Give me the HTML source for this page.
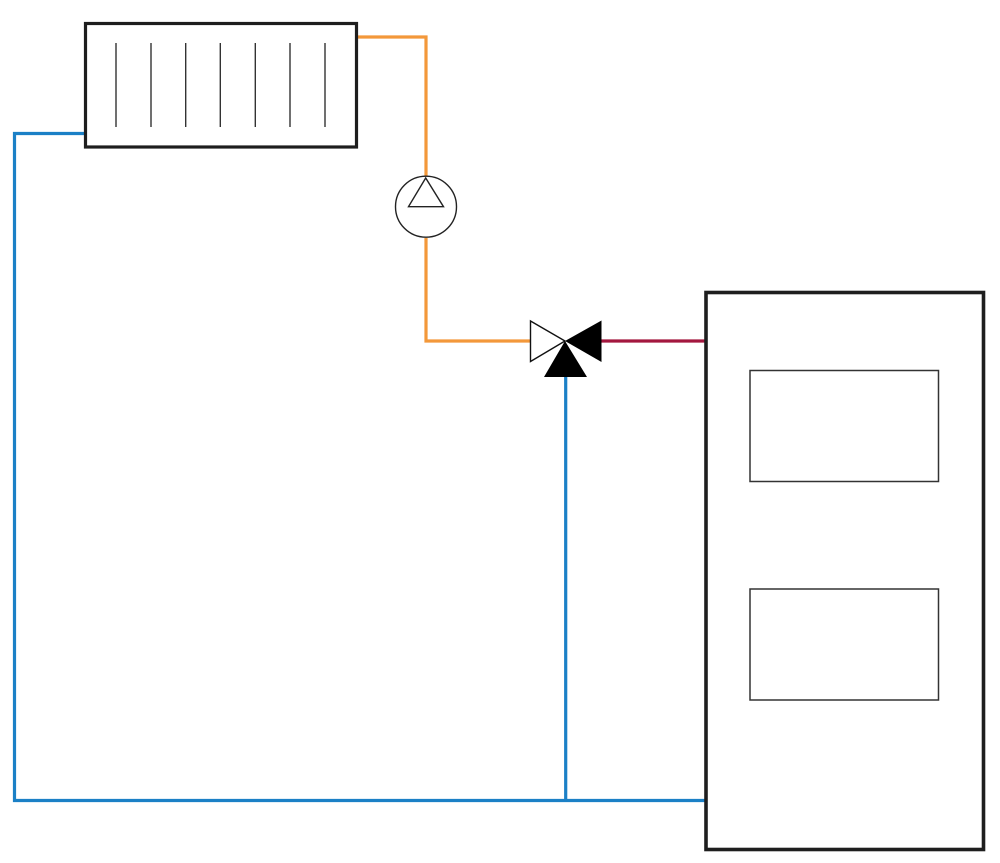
<!DOCTYPE html>
<html><head><meta charset="utf-8"><style>html,body{margin:0;padding:0;background:#fff;}svg{display:block;}</style></head>
<body>
<svg width="1000" height="863" viewBox="0 0 1000 863" xmlns="http://www.w3.org/2000/svg">
<rect width="1000" height="863" fill="#fff"/>
<!-- blue pipes -->
<polyline points="85,133.5 14.5,133.5 14.5,800.5 706,800.5" fill="none" stroke="#1b80c6" stroke-width="3.2"/>
<line x1="565.7" y1="372" x2="565.7" y2="800.5" stroke="#1b80c6" stroke-width="3.2"/>
<!-- orange pipes -->
<polyline points="357,37 426,37 426,176" fill="none" stroke="#f3983a" stroke-width="3.2"/>
<polyline points="426,238 426,341 532,341" fill="none" stroke="#f3983a" stroke-width="3.2"/>
<!-- red pipe -->
<line x1="600" y1="341" x2="706" y2="341" stroke="#a3173f" stroke-width="3.2"/>
<!-- radiator -->
<rect x="85.5" y="23.5" width="271" height="123.5" fill="#fff" stroke="#1e1e1e" stroke-width="3.2"/>
<g stroke="#333" stroke-width="1.4">
<line x1="116" y1="43" x2="116" y2="127"/>
<line x1="151" y1="43" x2="151" y2="127"/>
<line x1="185.7" y1="43" x2="185.7" y2="127"/>
<line x1="220.3" y1="43" x2="220.3" y2="127"/>
<line x1="255.3" y1="43" x2="255.3" y2="127"/>
<line x1="290" y1="43" x2="290" y2="127"/>
<line x1="325" y1="43" x2="325" y2="127"/>
</g>
<!-- pump -->
<circle cx="426" cy="206.7" r="30.5" fill="#fff" stroke="#222" stroke-width="1.4"/>
<polygon points="425.7,178 408.5,206.7 443.5,206.7" fill="#fff" stroke="#222" stroke-width="1.4"/>
<!-- valve -->
<polygon points="530.5,321 565,341 530.5,361.5" fill="#fff" stroke="#111" stroke-width="1.4"/>
<polygon points="601.5,320.5 565,341 601.5,362" fill="#000"/>
<polygon points="565,341 544,377 587,377" fill="#000"/>
<!-- boiler -->
<rect x="706" y="292.5" width="277.5" height="557" fill="#fff" stroke="#1e1e1e" stroke-width="3.6"/>
<rect x="750" y="370.5" width="188.5" height="111" fill="#fff" stroke="#333" stroke-width="1.5"/>
<rect x="750" y="589" width="188.5" height="111" fill="#fff" stroke="#333" stroke-width="1.5"/>
</svg>
</body></html>
